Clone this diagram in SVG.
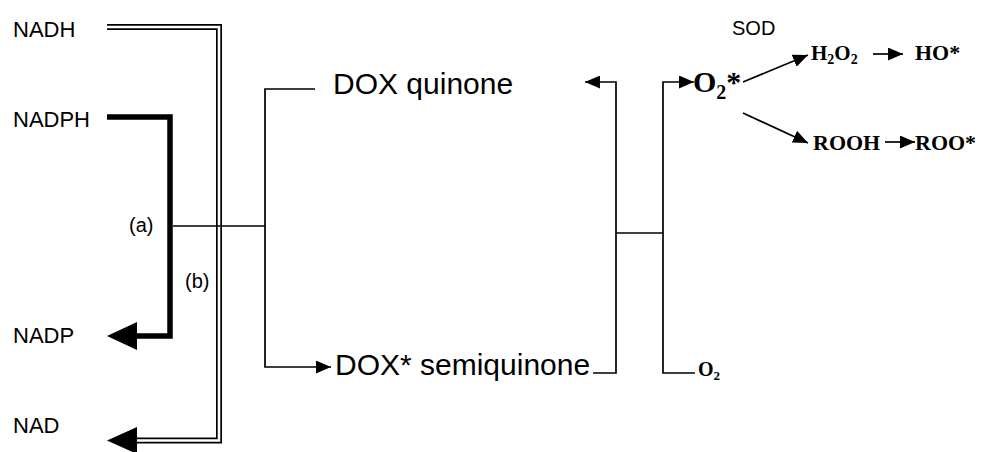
<svg xmlns="http://www.w3.org/2000/svg" width="983" height="452" viewBox="0 0 983 452">
<style>
.sans{font-family:"Liberation Sans",Arial,sans-serif;fill:#000}
.serif{font-family:"Liberation Serif","Times New Roman",serif;font-weight:bold;fill:#000}
.thin{fill:none;stroke:#000;stroke-width:1.7}
</style>
<defs>
<marker id="ah" markerUnits="userSpaceOnUse" markerWidth="16" markerHeight="13" refX="15" refY="6.5" orient="auto">
<path d="M0,0 L15,6.5 L0,13 z" fill="#000"/>
</marker>
</defs>
<rect width="983" height="452" fill="#fff"/>
<g id="connectors">
<!-- NADH -> NAD double line -->
<path d="M107,27 H219 V440.5 H137" fill="none" stroke="#000" stroke-width="6"/>
<path d="M107,27 H219 V440.5 H137" fill="none" stroke="#fff" stroke-width="2.6"/>
<polygon points="107,440.5 137,427 137,454" fill="#000"/>
<!-- NADPH -> NADP thick -->
<path d="M107,117 H170 V336 H135" fill="none" stroke="#000" stroke-width="5.5"/>
<polygon points="107,336 137,322 137,350" fill="#000"/>
<!-- central fork -->
<path class="thin" d="M173,226 H265"/>
<path class="thin" d="M315,89 H265 V367 H331" marker-end="url(#ah)"/>
<!-- right fork -->
<path class="thin" d="M593,373 H616 V82 H585" marker-end="url(#ah)"/>
<path class="thin" d="M616,233 H663"/>
<path class="thin" d="M695,373 H663 V82 H694" marker-end="url(#ah)"/>
<!-- O2* branches -->
<line class="thin" x1="743" y1="82" x2="808" y2="55" marker-end="url(#ah)"/>
<line class="thin" x1="743" y1="113" x2="808" y2="143" marker-end="url(#ah)"/>
<line class="thin" x1="873" y1="54" x2="903" y2="54" marker-end="url(#ah)"/>
<line class="thin" x1="885" y1="142" x2="915" y2="142" marker-end="url(#ah)"/>
</g>
<g id="nadh"><text class="sans" x="13" y="37" font-size="22">NADH</text></g>
<g id="nadph"><text class="sans" x="13" y="127" font-size="22">NADPH</text></g>
<g id="nadp"><text class="sans" x="13" y="343" font-size="22">NADP</text></g>
<g id="nad"><text class="sans" x="13" y="433" font-size="22">NAD</text></g>
<g id="label-a"><text class="sans" x="129" y="232" font-size="20">(a)</text></g>
<g id="label-b"><text class="sans" x="185" y="288" font-size="20">(b)</text></g>
<g id="dox-quinone"><text class="sans" x="333" y="94" font-size="30">DOX quinone</text></g>
<g id="dox-semiquinone"><text class="sans" x="335" y="375" font-size="30">DOX* semiquinone</text></g>
<g id="sod"><text class="sans" x="732" y="35" font-size="20">SOD</text></g>
<g id="superoxide"><text class="serif" x="693" y="92" font-size="30">O<tspan font-size="20" dy="7">2</tspan><tspan dy="-7">*</tspan></text></g>
<g id="h2o2"><text class="serif" x="811" y="60" font-size="21">H<tspan font-size="14" dy="4">2</tspan><tspan dy="-4">O</tspan><tspan font-size="14" dy="4">2</tspan></text></g>
<g id="ho"><text class="serif" x="915" y="60" font-size="22">HO*</text></g>
<g id="rooh"><text class="serif" x="813" y="150" font-size="22">ROOH</text></g>
<g id="roo"><text class="serif" x="915" y="150" font-size="22">ROO*</text></g>
<g id="o2"><text class="serif" x="698" y="376" font-size="20">O<tspan font-size="13" dy="4">2</tspan></text></g>
</svg>
